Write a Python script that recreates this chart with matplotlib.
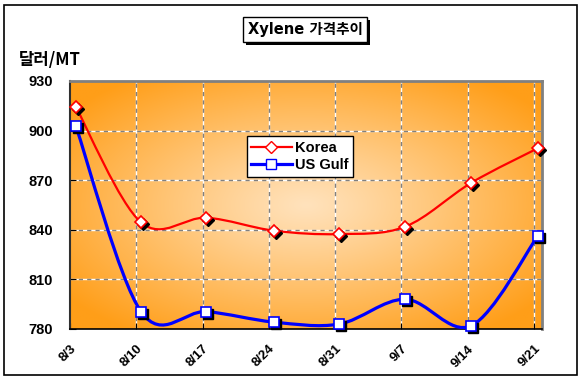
import numpy as np
import matplotlib
matplotlib.use("Agg")
import matplotlib.pyplot as plt
from matplotlib.path import Path
from matplotlib.patches import PathPatch, Rectangle
from matplotlib.lines import Line2D
import matplotlib.transforms as mtransforms

# ---- data ----
date_labels = ["8/3", "8/10", "8/17", "8/24", "8/31", "9/7", "9/14", "9/21"]
tick_days = [0, 7, 14, 21, 28, 35, 42, 49]
obs_days = [0.6, 7.5, 14.4, 21.5, 28.45, 35.4, 42.4, 49.4]
korea = [914.5, 844.5, 847.3, 839.5, 837.4, 841.9, 868.5, 889.3]
us_gulf = [903, 790.5, 790.5, 784.2, 783, 798, 782, 836.2]
y_ticks = [780, 810, 840, 870, 900, 930]
series_names = ["Korea", "US Gulf"]

W, H = 582, 381
fig = plt.figure(figsize=(W / 100, H / 100), dpi=100)
fig.patch.set_facecolor("white")

# outer frame
fig.add_artist(Rectangle((4 / W, 1 - 375 / H), 573 / W, 370 / H,
                         transform=fig.transFigure, fill=False,
                         edgecolor="black", lw=1.2))

ax = fig.add_axes([70 / W, 1 - 329 / H, 472 / W, 248 / H])
ax.set_xlim(0, 49.85)
ax.set_ylim(780, 930)

# gradient background (from center)
nx, ny = 300, 200
gx = np.linspace(-1, 1, nx)
gy = np.linspace(-1, 1, ny)
X, Y = np.meshgrid(gx, gy)
t = np.clip(np.sqrt((X * 0.95) ** 2 + (Y * 0.95) ** 2) / 1.2, 0, 1) ** 1.1
c0 = np.array([255, 226, 188]) / 255.0
c1 = np.array([255, 158, 24]) / 255.0
img = c0[None, None, :] * (1 - t[..., None]) + c1[None, None, :] * t[..., None]
ax.imshow(img, extent=[0, 1, 0, 1], transform=ax.transAxes, aspect="auto",
          zorder=0, interpolation="bilinear")

# gridlines
for xv in tick_days[1:]:
    ax.axvline(xv, color="white", lw=1, zorder=1)
    ax.axvline(xv, color="#808080", lw=1, ls=(0, (3, 3)), zorder=1.1)
for yv in y_ticks[1:-1]:
    ax.axhline(yv, color="white", lw=1, zorder=1)
    ax.axhline(yv, color="#808080", lw=1, ls=(0, (3, 3)), zorder=1.1)


def smooth_path(xs, ys):
    xs = np.asarray(xs, float)
    ys = np.asarray(ys, float)
    P = np.column_stack([xs, ys])
    n = len(P)
    verts = [P[0]]
    codes = [Path.MOVETO]
    for i in range(n - 1):
        p0 = P[i - 1] if i > 0 else P[i]
        p1 = P[i]
        p2 = P[i + 1]
        p3 = P[i + 2] if i + 2 < n else P[i + 1]
        c1 = p1 + (p2 - p0) / 6.0
        c2 = p2 - (p3 - p1) / 6.0
        verts += [c1, c2, p2]
        codes += [Path.CURVE4] * 3
    return Path(verts, codes)


shadow = mtransforms.offset_copy(ax.transData, fig=fig, x=2, y=-2, units="dots")

series = [(korea, "#FF0000", 1.6, "D", 6.5), (us_gulf, "#0000FF", 2.3, "s", 6.5)]
for vals, col, lw, mk, ms in series:
    ax.add_patch(PathPatch(smooth_path(obs_days, vals), fill=False,
                           edgecolor=col, lw=lw, zorder=3, capstyle="round"))
    ax.plot(obs_days, vals, ls="none", marker=mk, ms=ms, mfc="black",
            mec="black", transform=shadow, zorder=4, clip_on=False)
    ax.plot(obs_days, vals, ls="none", marker=mk, ms=ms, mfc="white",
            mec=col, mew=1.2, zorder=5, clip_on=False)

# spines
for s in ["top", "right"]:
    ax.spines[s].set_color("#808080")
    ax.spines[s].set_linewidth(2)
ax.spines["left"].set_color("#303030")
ax.spines["left"].set_linewidth(1.5)
ax.spines["bottom"].set_color("black")
ax.spines["bottom"].set_linewidth(1.2)

ax.set_yticks(y_ticks)
ax.set_yticklabels([str(v) for v in y_ticks], fontsize=10.5, fontweight="bold",
                   family="Liberation Sans")
ax.set_xticks(tick_days)
ax.set_xticklabels(date_labels, rotation=45, ha="right", va="top",
                   rotation_mode="anchor", fontsize=9.5, fontweight="bold",
                   family="Liberation Sans")
ax.tick_params(axis="y", direction="in", length=4, pad=12, color="black")
ax.tick_params(axis="x", direction="in", length=4, pad=10, color="black")

# legend
handles = [Line2D([], [], color="#FF0000", lw=1.6, marker="D", ms=6.5,
                  mfc="white", mec="#FF0000"),
           Line2D([], [], color="#0000FF", lw=2.3, marker="s", ms=6.5,
                  mfc="white", mec="#0000FF")]
leg = ax.legend(handles, series_names, loc="upper left",
                bbox_to_anchor=(0.374, 0.777), borderaxespad=0,
                frameon=True, fancybox=False,
                edgecolor="black", framealpha=1, handlelength=2.8,
                handletextpad=0.25, borderpad=0.3, labelspacing=0.25,
                prop={"family": "Liberation Sans", "weight": "bold", "size": 10.5})
leg.get_frame().set_linewidth(1.0)
leg.set_zorder(6)

# title box with shadow
bx0, bx1, by0, by1 = 243, 367, 17, 42
fig.add_artist(Rectangle(((bx0 + 3) / W, 1 - (by1 + 3) / H), (bx1 - bx0) / W,
                         (by1 - by0) / H, transform=fig.transFigure,
                         facecolor="black", edgecolor="black", lw=0))
fig.add_artist(Rectangle((bx0 / W, 1 - by1 / H), (bx1 - bx0) / W,
                         (by1 - by0) / H, transform=fig.transFigure,
                         facecolor="white", edgecolor="black", lw=1))
fig.text((bx0 + bx1) / 2 / W, 1 - (by0 + by1) / 2 / H, "Xylene 가격추이",
         ha="center", va="center", fontsize=10.5, fontweight="bold",
         family=["DejaVu Sans", "Noto Sans CJK KR"])

# y-axis unit label
fig.text(19 / W, 1 - 60 / H, "달러/MT", ha="left", va="center", fontsize=12,
         fontweight="bold", family=["Noto Sans CJK KR", "DejaVu Sans"])

fig.savefig("out.png", dpi=100)
